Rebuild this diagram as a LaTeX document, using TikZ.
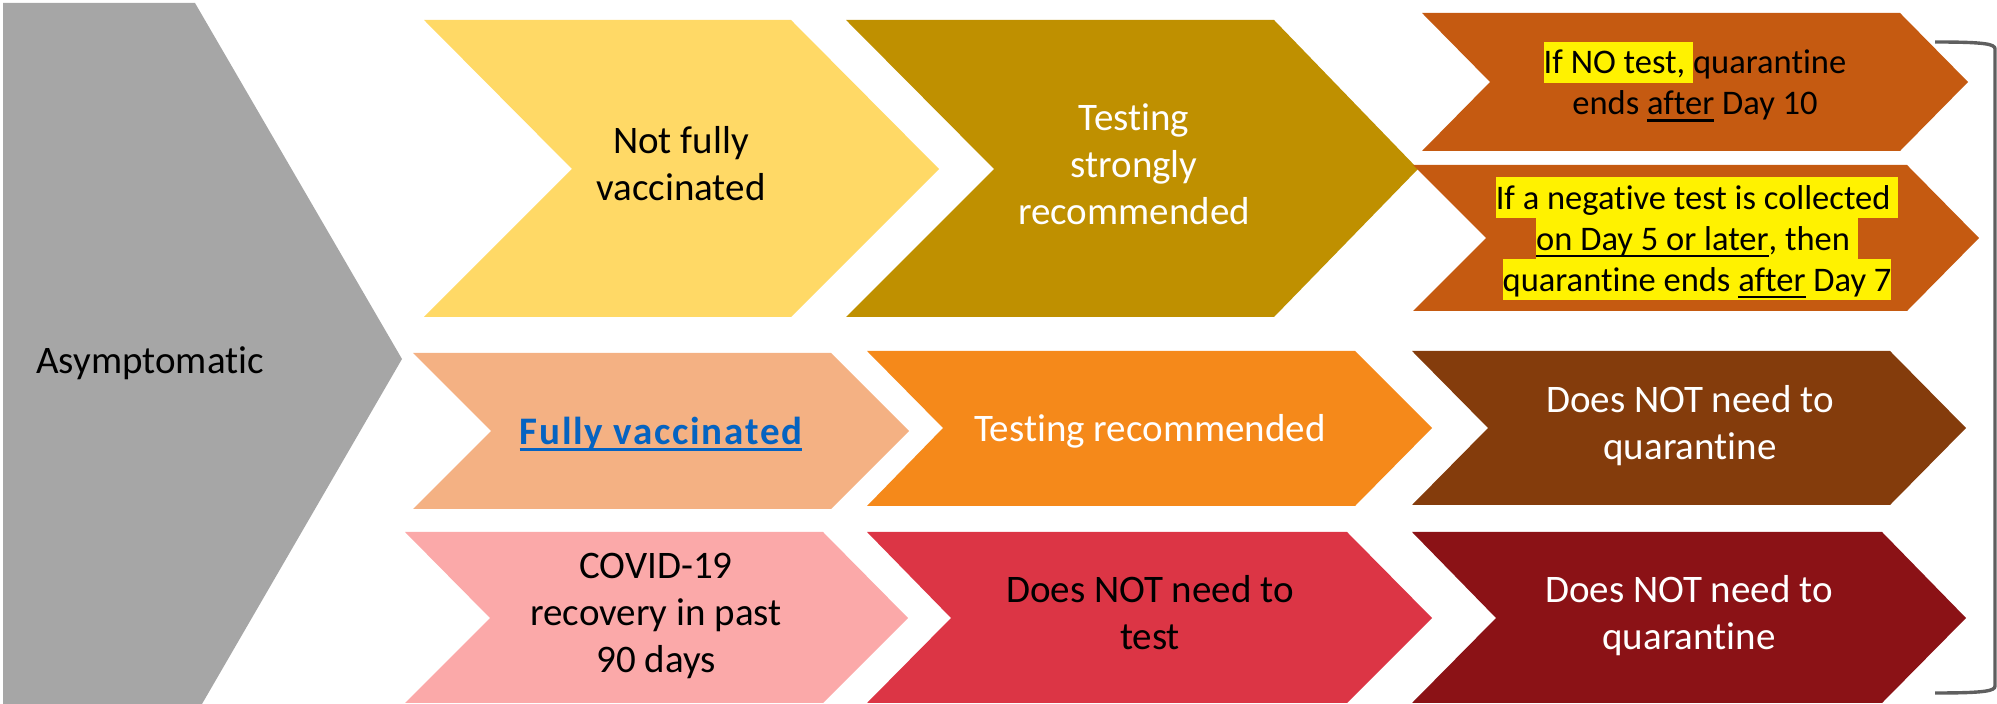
\documentclass[tikz,border=0pt]{standalone}
\usepackage{fontspec}
\setmainfont{Carlito}[Ligatures=NoCommon]
\usepackage{xcolor}
\usetikzlibrary{positioning}
\definecolor{casym}{HTML}{A6A6A6}
\definecolor{cnotfull}{HTML}{FFD966}
\definecolor{cstrong}{HTML}{BF9000}
\definecolor{crust}{HTML}{C55A11}
\definecolor{cfull}{HTML}{F4B183}
\definecolor{crec}{HTML}{F5891A}
\definecolor{cbrown}{HTML}{843C0C}
\definecolor{cpink}{HTML}{FBA9A9}
\definecolor{cred}{HTML}{DC3545}
\definecolor{cdark}{HTML}{8B1216}
\definecolor{clink}{HTML}{0563C1}
\definecolor{cbrack}{HTML}{5F5F5F}
\newcommand\st{\rule[-.22\baselineskip]{0pt}{\baselineskip}}
\newcommand\hlite[1]{{\setlength\fboxsep{0pt}\colorbox{yellow}{\st#1}}}
\newcommand\undl[1]{\setbox0\hbox{#1}\rlap{\rule[-3.35pt]{\wd0}{1.2pt}}\box0{}}

\begin{document}
\begin{tikzpicture}[x=0.5pt, y=-0.5pt,
    txt/.style={align=center, inner sep=0pt, font=\fontsize{19.5}{23.5}\selectfont,
      execute at begin node=\st, execute at end node=\st},
    smalltxt/.style={txt, font=\fontsize{17.25}{20.5}\selectfont}]
  \useasboundingbox (0,0) rectangle (1997,704);

  % chevrons
  \fill[casym] (3,3) -- (195,3) -- (402,359) -- (202,704) -- (3,704) -- cycle;
  \fill[cnotfull] (424,20) -- (791,20) -- (939,169) -- (791,317) -- (424,317) -- (572,169) -- cycle;
  \fill[cstrong] (846,20) -- (1274,20) -- (1418,169) -- (1274,317) -- (846,317) -- (994,169) -- cycle;
  \fill[crust] (1422,13) -- (1900,13) -- (1968,82) -- (1900,151) -- (1422,151) -- (1490,82) -- cycle;
  \fill[crust] (1413,165) -- (1907,165) -- (1979,238) -- (1907,311) -- (1413,311) -- (1486,238) -- cycle;
  \fill[cfull] (413,353) -- (831,353) -- (909,431) -- (831,509) -- (413,509) -- (491,431) -- cycle;
  \fill[crec] (867,351) -- (1355,351) -- (1432,428) -- (1355,506) -- (867,506) -- (943,428) -- cycle;
  \fill[cbrown] (1412,351) -- (1890,351) -- (1966,428) -- (1890,505) -- (1412,505) -- (1488,428) -- cycle;
  \fill[cpink] (405,532) -- (823,532) -- (908,618) -- (823,703) -- (405,703) -- (490,618) -- cycle;
  \fill[cred] (867,532) -- (1347,532) -- (1432,618) -- (1347,703) -- (867,703) -- (951,618) -- cycle;
  \fill[cdark] (1412,532) -- (1882,532) -- (1966,618) -- (1882,703) -- (1412,703) -- (1496,618) -- cycle;

  % bracket
  \draw[cbrack, line width=1.7pt] (1935,42) .. controls (1985,42) and (1995,44) .. (1995,49)
    -- (1995,686) .. controls (1995,691) and (1985,693) .. (1935,693);

  % texts
  \node[txt, anchor=west] (asymp) at (36,360) {Asymptomatic};
  \node[txt] (notfull) at (681,169) {Not fully\\vaccinated};
  \node[txt, text=white] (strong) at (1134,169) {Testing\\strongly\\recommended};
  \node[smalltxt] (notest) at (1695,83) {\hlite{If NO test, }quarantine\\ends \undl{after} Day 10};
  \node[smalltxt] (negtest) at (1697,239) {\hlite{If a negative test is collected }\\
    \hlite{\undl{on Day 5 or later}, then }\\\hlite{quarantine ends \undl{after} Day 7}};
  \node[txt, text=clink, font=\fontsize{19.5}{23.5}\selectfont\bfseries\addfontfeature{LetterSpace=4.5}]
    (full) at (661,431) {\undl{Fully vaccinated}};
  \node[txt, text=white] (rec) at (1150,428) {Testing recommended};
  \node[txt, text=white] (noquar1) at (1690,428) {Does NOT need to\\quarantine};
  \node[txt] (recov) at (656,618) {COVID-19\\recovery in past\\90 days};
  \node[txt] (notest2) at (1150,618) {Does NOT need to\\test};
  \node[txt, text=white] (noquar2) at (1689,618) {Does NOT need to\\quarantine};
\end{tikzpicture}
\end{document}
